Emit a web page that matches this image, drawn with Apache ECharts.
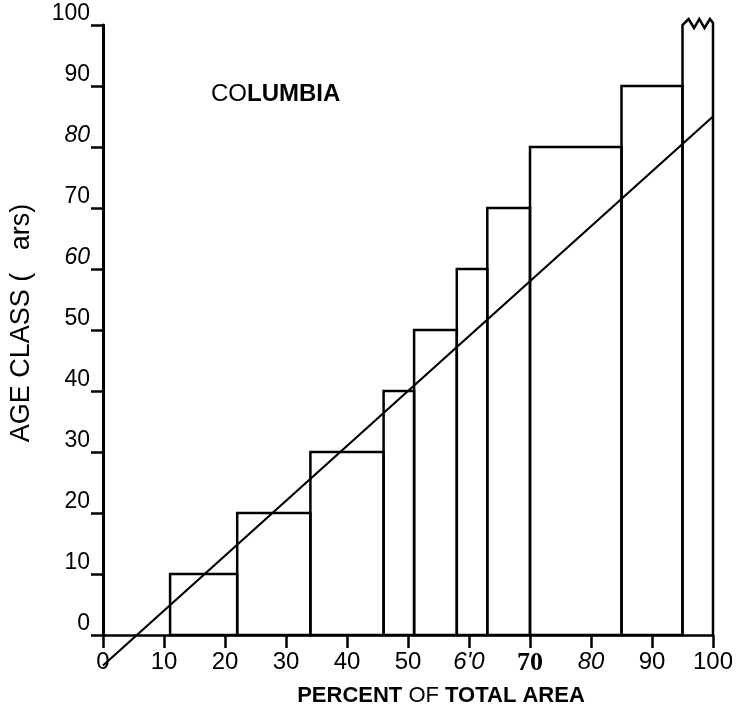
<!DOCTYPE html>
<html>
<head>
<meta charset="utf-8">
<script src="https://cdn.jsdelivr.net/npm/echarts@6/dist/echarts.min.js"></script>
<style>
  html, body { margin: 0; padding: 0; background: #fff; }
  #chart { width: 740px; height: 716px; }
</style>
</head>
<body>
<div id="chart"></div>
<script>
// step bars: percent of total area (start, end) and age class height
const barStart = [11, 22, 34, 46, 51, 58, 63, 70, 85, 95];
const barEnd = [22, 34, 46, 51, 58, 63, 70, 85, 95, 100];
const ageClass = [10, 20, 30, 40, 50, 60, 70, 80, 90, 100];

// fitted straight line
const fitX = [0, 100];
const fitY = [-5, 85];

const xTickLabels = ['0', '10', '20', '30', '40', '50', "6'0", '70', '80', '90', '100'];
const yTickLabels = ['0', '10', '20', '30', '40', '50', '60', '70', '80', '90', '100'];

// odd typefaces in the scanned tick labels
const xLabelStyle = { 60: 'it', 70: 'bs', 80: 'it' };
const yLabelStyle = { 60: 'it', 80: 'it' };

let chartDom = document.getElementById('chart');
let myChart = echarts.init(chartDom, null, { renderer: 'canvas' });

let barData = barStart.map(function (s, i) {
    return [s, barEnd[i], ageClass[i]];
});
let lineData = fitX.map(function (x, i) {
    return [x, fitY[i]];
});

function tickFormatter(labels, styles) {
    return function (v) {
        let txt = labels[Math.round(v / 10)];
        let st = styles[v] || 'n';
        return '{' + st + '|' + txt + '}';
    };
}

const sans = 'Liberation Sans';

let option = {
    backgroundColor: '#fff',
    animation: false,
    title: {
        text: '{r|CO}{b|LUMBIA}',
        left: 206,
        top: 77,
        textStyle: {
            rich: {
                r: { fontSize: 24, fontFamily: sans, fontWeight: 'normal', color: '#000' },
                b: { fontSize: 24, fontFamily: sans, fontWeight: 'bold', color: '#000' }
            }
        }
    },
    grid: { left: 103, right: 27, top: 25, bottom: 81, outerBoundsMode: 'none' },
    xAxis: {
        type: 'value',
        min: 0,
        max: 100,
        interval: 10,
        name: '{b|PERCENT }{r|OF }{b|TOTAL AREA}',
        nameLocation: 'middle',
        nameGap: 50,
        nameTextStyle: {
            padding: [0, 0, 0, 66],
            rich: {
                b: { fontSize: 22, fontWeight: 'bold', fontFamily: sans, color: '#000' },
                r: { fontSize: 22, fontWeight: 'normal', fontFamily: sans, color: '#000' }
            }
        },
        axisLine: { lineStyle: { color: '#000', width: 2.5 } },
        axisTick: { length: 13, lineStyle: { color: '#000', width: 2.5 } },
        axisLabel: {
            margin: 15,
            color: '#000',
            formatter: tickFormatter(xTickLabels, xLabelStyle),
            rich: {
                n: { fontSize: 24, fontFamily: sans, color: '#000' },
                it: { fontSize: 24, fontStyle: 'italic', fontFamily: sans, color: '#000' },
                bs: { fontSize: 26, fontWeight: 'bold', fontFamily: 'Liberation Serif', color: '#000' }
            }
        },
        splitLine: { show: false }
    },
    yAxis: {
        type: 'value',
        min: 0,
        max: 100,
        interval: 10,
        name: 'AGE CLASS (   ars)',
        nameLocation: 'middle',
        nameGap: 68,
        nameTextStyle: { fontSize: 27, fontFamily: sans, color: '#000', padding: [0, 0, 0, 14] },
        axisLine: { show: true, lineStyle: { color: '#000', width: 3 } },
        axisTick: { show: true, length: 12, lineStyle: { color: '#000', width: 2.5 } },
        axisLabel: {
            margin: 13,
            color: '#000',
            verticalAlign: 'bottom',
            formatter: tickFormatter(yTickLabels, yLabelStyle),
            rich: {
                n: { fontSize: 23, fontFamily: sans, color: '#000' },
                it: { fontSize: 23, fontStyle: 'italic', fontFamily: sans, color: '#000' }
            }
        },
        splitLine: { show: false }
    },
    series: [
        {
            type: 'custom',
            clip: false,
            data: barData,
            renderItem: function (params, api) {
                let x0 = api.value(0), x1 = api.value(1), h = api.value(2);
                let pb = api.coord([x0, 0]);
                let pt = api.coord([x1, h]);
                let style = { fill: 'none', stroke: '#000', lineWidth: 2.5 };
                if (params.dataIndex === barData.length - 1) {
                    // broken (wavy) top on the last class
                    let w = pt[0] - pb[0];
                    let top = pt[1];
                    let pts = [
                        [pb[0], pb[1]],
                        [pb[0], top],
                        [pb[0] + w * 0.2, top - 6],
                        [pb[0] + w * 0.38, top + 3],
                        [pb[0] + w * 0.55, top - 6],
                        [pb[0] + w * 0.72, top + 3],
                        [pb[0] + w * 0.9, top - 6],
                        [pt[0], top - 2],
                        [pt[0], pb[1]]
                    ];
                    return { type: 'polyline', shape: { points: pts }, style: style };
                }
                return {
                    type: 'rect',
                    shape: { x: pb[0], y: pt[1], width: pt[0] - pb[0], height: pb[1] - pt[1] },
                    style: style
                };
            },
            z: 2
        },
        {
            type: 'line',
            data: lineData,
            clip: false,
            showSymbol: false,
            lineStyle: { color: '#000', width: 2.2 },
            z: 3
        }
    ]
};

option && myChart.setOption(option);
</script>
</body>
</html>
